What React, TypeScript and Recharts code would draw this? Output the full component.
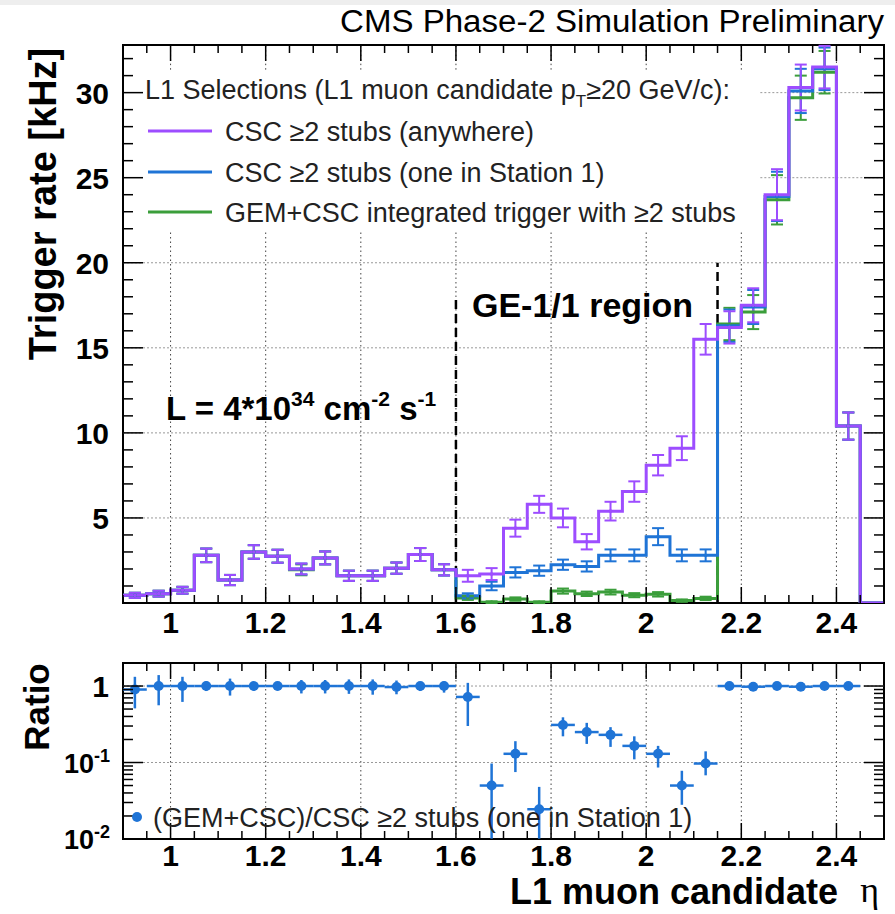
import React from "react";
import {
  ComposedChart,
  Line,
  Scatter,
  XAxis,
  YAxis,
  ErrorBar,
  ReferenceLine,
  ReferenceArea,
} from "recharts";

const FONT = "'Liberation Sans', Arial, Helvetica, sans-serif";
const PURPLE = "#9d4dff";
const BLUE = "#1f74d6";
const GREEN = "#3b9e3b";

// low edges of the eta bins (width 0.05)
const binEdges = [
  0.9, 0.95, 1.0, 1.05, 1.1, 1.15, 1.2, 1.25, 1.3, 1.35, 1.4, 1.45, 1.5, 1.55, 1.6, 1.65,
  1.7, 1.75, 1.8, 1.85, 1.9, 1.95, 2.0, 2.05, 2.1, 2.15, 2.2, 2.25, 2.3, 2.35, 2.4, 2.45,
];
const binWidth = 0.05;

// trigger rates [kHz]
const rateAnywhere = [
  0.45, 0.55, 0.75, 2.8, 1.35, 3.0, 2.75, 2.0, 2.65, 1.6, 1.6, 2.05, 2.85, 1.95, 1.6, 1.7,
  4.4, 5.8, 5.0, 3.6, 5.4, 6.55, 8.1, 9.1, 15.5, 16.2, 17.5, 24.0, 30.3, 31.5, 10.4, 0,
];
const errAnywhere = [
  0.15, 0.17, 0.2, 0.4, 0.3, 0.4, 0.38, 0.32, 0.38, 0.3, 0.3, 0.33, 0.38, 0.33, 0.35, 0.35,
  0.5, 0.5, 0.55, 0.45, 0.55, 0.6, 0.6, 0.7, 0.9, 0.95, 1.0, 1.5, 1.35, 1.25, 0.8, 0,
];
const rateStation1 = [
  0.45, 0.55, 0.75, 2.8, 1.35, 3.0, 2.75, 2.0, 2.65, 1.6, 1.6, 2.05, 2.85, 1.95, 0.42, 1.0,
  1.8, 1.9, 2.25, 2.15, 2.8, 2.8, 3.9, 2.8, 2.8, 16.3, 17.4, 23.9, 30.1, 31.4, 10.4, 0,
];
const errStation1 = [
  0.15, 0.17, 0.2, 0.4, 0.3, 0.4, 0.38, 0.32, 0.38, 0.3, 0.3, 0.33, 0.38, 0.33, 0.15, 0.25,
  0.3, 0.3, 0.3, 0.3, 0.35, 0.35, 0.5, 0.35, 0.35, 0.95, 1.0, 1.45, 1.3, 1.25, 0.8, 0,
];
const rateGemCsc = [
  0.45, 0.55, 0.75, 2.8, 1.35, 3.0, 2.75, 1.95, 2.65, 1.6, 1.6, 2.05, 2.85, 1.95, 0.3, 0.05,
  0.23, 0.047, 0.7, 0.54, 0.64, 0.46, 0.51, 0.14, 0.27, 16.4, 17.1, 23.7, 29.7, 31.2, 10.4, 0,
];
const errGemCsc = [
  0.15, 0.17, 0.2, 0.4, 0.3, 0.4, 0.38, 0.32, 0.38, 0.3, 0.3, 0.33, 0.38, 0.33, 0.12, 0.05,
  0.1, 0.05, 0.15, 0.13, 0.14, 0.12, 0.13, 0.07, 0.1, 0.95, 1.0, 1.45, 1.3, 1.25, 0.8, 0,
];

// (GEM+CSC)/CSC ratio, bins 0.9 .. 2.45
const ratioValues = [
  0.9, 1.0, 1.0, 1.0, 1.0, 1.0, 1.0, 1.0, 1.0, 1.0, 1.0, 0.97, 1.0, 1.0, 0.72, 0.05,
  0.13, 0.0245, 0.31, 0.25, 0.23, 0.165, 0.13, 0.05, 0.097, 1.0, 0.98, 1.0, 0.98, 1.0, 1.0,
];
const ratioLow = [
  0.51, 0.56, 0.62, 0.86, 0.75, 0.87, 0.88, 0.8, 0.8, 0.79, 0.77, 0.78, 0.86, 0.82, 0.3, 0.0101,
  0.075, 0.0101, 0.22, 0.175, 0.16, 0.11, 0.086, 0.028, 0.068, 0.94, 0.93, 0.95, 0.94, 0.95, 0.94,
];
const ratioHigh = [
  1.32, 1.39, 1.32, 1.15, 1.25, 1.13, 1.12, 1.2, 1.2, 1.22, 1.22, 1.18, 1.12, 1.15, 1.1, 0.097,
  0.19, 0.048, 0.39, 0.33, 0.29, 0.22, 0.165, 0.078, 0.14, 1.06, 1.04, 1.05, 1.03, 1.05, 1.06,
];

const xMajorTicks = [1, 1.2, 1.4, 1.6, 1.8, 2, 2.2, 2.4];
const xAllTicks = [
  0.9, 0.95, 1.0, 1.05, 1.1, 1.15, 1.2, 1.25, 1.3, 1.35, 1.4, 1.45, 1.5, 1.55, 1.6, 1.65, 1.7,
  1.75, 1.8, 1.85, 1.9, 1.95, 2.0, 2.05, 2.1, 2.15, 2.2, 2.25, 2.3, 2.35, 2.4, 2.45, 2.5,
];
const rateMajorTicks = [5, 10, 15, 20, 25, 30];
const rateAllTicks = [
  1, 2, 3, 4, 5, 6, 7, 8, 9, 10, 11, 12, 13, 14, 15, 16, 17, 18, 19, 20, 21, 22, 23, 24, 25,
  26, 27, 28, 29, 30, 31, 32,
];
const ratioMajorTicks = [0.01, 0.1, 1];
const ratioAllTicks = [
  0.01, 0.02, 0.03, 0.04, 0.05, 0.06, 0.07, 0.08, 0.09, 0.1, 0.2, 0.3, 0.4, 0.5, 0.6, 0.7,
  0.8, 0.9, 1, 2,
];

const RATE_MAX = 32.8;
const PLOT_RIGHT = 884;
// white legend box inside the upper pad (data units)
const legendBox = { x2: 2.24, y1: 21.9, y2: 31.35 };

const near = (a: number, b: number) => Math.abs(a - b) < 1e-6;
const isIn = (v: number, arr: number[]) => arr.some((a) => near(a, v));

const stepData = (vals: number[]) => [
  ...binEdges.map((x, i) => ({ x, y: vals[i] })),
  { x: 2.5, y: vals[vals.length - 1] },
];
const errData = (vals: number[], errs: number[]) =>
  binEdges
    .map((x, i) => ({ x: x + binWidth / 2, y: vals[i], e: errs[i] }))
    .filter((d) => d.y > 0);

const ratioData = ratioValues.map((y, i) => ({
  x: binEdges[i] + binWidth / 2,
  y,
  e: [y - ratioLow[i], ratioHigh[i] - y],
  xe: binWidth / 2,
}));

const tickText = {
  fontFamily: FONT,
  fontWeight: "bold" as const,
  fontSize: 30,
  fill: "#000",
};

function makeXTick(top: number, labelOffset: number) {
  return (p: any) => {
    const v = p.payload.value;
    const major = isIn(v, xMajorTicks);
    const len = major ? 16 : 8;
    return (
      <g>
        <line x1={p.x} y1={p.y} x2={p.x} y2={p.y - len} stroke="#000" strokeWidth={1.5} />
        <line x1={p.x} y1={top} x2={p.x} y2={top + len} stroke="#000" strokeWidth={1.5} />
        {major && (
          <text x={p.x} y={p.y + labelOffset} textAnchor="middle" {...tickText}>
            {String(v)}
          </text>
        )}
      </g>
    );
  };
}

function rateTick(p: any) {
  const v = p.payload.value;
  const major = isIn(v, rateMajorTicks);
  const len = major ? 20 : 10;
  return (
    <g>
      <line x1={p.x} y1={p.y} x2={p.x + len} y2={p.y} stroke="#000" strokeWidth={1.5} />
      <line x1={PLOT_RIGHT} y1={p.y} x2={PLOT_RIGHT - len} y2={p.y} stroke="#000" strokeWidth={1.5} />
      {major && (
        <text x={p.x - 14} y={p.y + 11} textAnchor="end" {...tickText}>
          {String(v)}
        </text>
      )}
    </g>
  );
}

function ratioTick(p: any) {
  const v = p.payload.value;
  const major = isIn(v, ratioMajorTicks);
  const len = major ? 20 : 10;
  let label: React.ReactNode = null;
  if (near(v, 1))
    label = (
      <text x={p.x - 14} y={p.y + 11} textAnchor="end" {...tickText}>
        1
      </text>
    );
  else if (near(v, 0.1) || near(v, 0.01))
    label = (
      <text x={p.x - 13} y={p.y + 10} textAnchor="end" {...tickText} fontSize={27}>
        10<tspan dy={-11} fontSize={18}>{near(v, 0.1) ? "-1" : "-2"}</tspan>
      </text>
    );
  return (
    <g>
      <line x1={p.x} y1={p.y} x2={p.x + len} y2={p.y} stroke="#000" strokeWidth={1.5} />
      <line x1={PLOT_RIGHT} y1={p.y} x2={PLOT_RIGHT - len} y2={p.y} stroke="#000" strokeWidth={1.5} />
      {label}
    </g>
  );
}

const dotShape = (color: string, r: number) => (p: any) =>
  <circle cx={p.cx} cy={p.cy} r={r} fill={color} />;

const vGrid = { stroke: "#444", strokeDasharray: "1.5 3", strokeWidth: 1 };
const hGrid = { stroke: "#999", strokeDasharray: "2 2", strokeWidth: 1 };

function RatePad() {
  const series = [
    { vals: rateGemCsc, errs: errGemCsc, color: GREEN },
    { vals: rateStation1, errs: errStation1, color: BLUE },
    { vals: rateAnywhere, errs: errAnywhere, color: PURPLE },
  ];
  return (
    <ComposedChart width={895} height={640} margin={{ top: 45, right: 11, bottom: 7, left: 63 }}>
      <XAxis
        dataKey="x"
        type="number"
        domain={[0.9, 2.5]}
        ticks={xAllTicks}
        interval={0}
        allowDataOverflow
        height={30}
        tickSize={0}
        tickMargin={0}
        tickLine={false}
        axisLine={false}
        tick={makeXTick(45, 30)}
      />
      <YAxis
        type="number"
        domain={[0, RATE_MAX]}
        ticks={rateAllTicks}
        interval={0}
        allowDataOverflow
        width={60}
        tickSize={0}
        tickMargin={0}
        tickLine={false}
        axisLine={false}
        tick={rateTick}
      />
      {xMajorTicks.map((x) =>
        x < legendBox.x2 ? (
          <React.Fragment key={`vg${x}`}>
            <ReferenceLine segment={[{ x, y: 0 }, { x, y: legendBox.y1 }]} {...vGrid} />
            <ReferenceLine segment={[{ x, y: legendBox.y2 }, { x, y: RATE_MAX }]} {...vGrid} />
          </React.Fragment>
        ) : (
          <ReferenceLine key={`vg${x}`} x={x} {...vGrid} />
        )
      )}
      {rateMajorTicks.map((y) =>
        y > legendBox.y1 && y < legendBox.y2 ? (
          <ReferenceLine key={`hg${y}`} segment={[{ x: legendBox.x2, y }, { x: 2.5, y }]} {...hGrid} />
        ) : (
          <ReferenceLine key={`hg${y}`} y={y} {...hGrid} />
        )
      )}
      <ReferenceLine
        segment={[{ x: 1.6, y: 0 }, { x: 1.6, y: 18.1 }]}
        stroke="#000"
        strokeWidth={2.5}
        strokeDasharray="9 5"
      />
      <ReferenceLine
        segment={[{ x: 2.15, y: 0 }, { x: 2.15, y: 20 }]}
        stroke="#000"
        strokeWidth={2.5}
        strokeDasharray="9 5"
      />
      {series.map((s) => (
        <Line
          key={`l${s.color}`}
          data={stepData(s.vals)}
          dataKey="y"
          type="stepAfter"
          stroke={s.color}
          strokeWidth={3}
          dot={false}
          activeDot={false}
          isAnimationActive={false}
        />
      ))}
      {series.map((s) => (
        <Scatter
          key={`s${s.color}`}
          data={errData(s.vals, s.errs)}
          dataKey="y"
          fill={s.color}
          shape={dotShape(s.color, 1.8)}
          isAnimationActive={false}
        >
          <ErrorBar dataKey="e" direction="y" width={6} stroke={s.color} strokeWidth={2} />
        </Scatter>
      ))}
      <ReferenceArea x1={0.9} x2={2.5} y1={0} y2={RATE_MAX} fill="none" stroke="#000" strokeWidth={2} />
    </ComposedChart>
  );
}

function RatioPad() {
  return (
    <ComposedChart width={895} height={240} margin={{ top: 23, right: 11, bottom: 11, left: 63 }}>
      <XAxis
        dataKey="x"
        type="number"
        domain={[0.9, 2.5]}
        ticks={xAllTicks}
        interval={0}
        allowDataOverflow
        height={30}
        tickSize={0}
        tickMargin={0}
        tickLine={false}
        axisLine={false}
        tick={makeXTick(23, 27)}
      />
      <YAxis
        type="number"
        scale="log"
        domain={[0.01, 2]}
        ticks={ratioAllTicks}
        interval={0}
        allowDataOverflow
        width={60}
        tickSize={0}
        tickMargin={0}
        tickLine={false}
        axisLine={false}
        tick={ratioTick}
      />
      {xMajorTicks.map((x) => (
        <ReferenceLine key={`rv${x}`} x={x} {...vGrid} />
      ))}
      <ReferenceLine y={1} {...hGrid} />
      <ReferenceLine y={0.1} {...hGrid} />
      <Scatter data={ratioData} dataKey="y" fill={BLUE} shape={dotShape(BLUE, 5)} isAnimationActive={false}>
        <ErrorBar dataKey="e" direction="y" width={0} stroke={BLUE} strokeWidth={2.5} />
        <ErrorBar dataKey="xe" direction="x" width={0} stroke={BLUE} strokeWidth={2.5} />
      </Scatter>
      <ReferenceArea x1={0.9} x2={2.5} y1={0.01} y2={2} fill="none" stroke="#000" strokeWidth={2} />
    </ComposedChart>
  );
}

const legendRows = [
  { label: "CSC ≥2 stubs (anywhere)", color: PURPLE, y: 131 },
  { label: "CSC ≥2 stubs (one in Station 1)", color: BLUE, y: 172 },
  { label: "GEM+CSC integrated trigger with ≥2 stubs", color: GREEN, y: 212 },
];

function Annotations() {
  return (
    <svg
      width={895}
      height={914}
      style={{ position: "absolute", left: 0, top: 0, pointerEvents: "none" }}
      fontFamily={FONT}
    >
      <text x={340} y={32} fontSize={31} textLength={544} lengthAdjust="spacingAndGlyphs" fill="#000">
        CMS Phase-2 Simulation Preliminary
      </text>
      <text
        transform="translate(56,204) rotate(-90)"
        textAnchor="middle"
        fontSize={38}
        fontWeight="bold"
        fill="#000"
      >
        Trigger rate [kHz]
      </text>
      <text
        transform="translate(49,707) rotate(-90)"
        textAnchor="middle"
        fontSize={35}
        fontWeight="bold"
        fill="#000"
      >
        Ratio
      </text>
      <text x={510} y={904} fontSize={36} fontWeight="bold" fill="#000">
        L1 muon candidate
      </text>
      <text
        x={879}
        y={902}
        textAnchor="end"
        fontSize={36}
        fontFamily="'Liberation Serif', 'DejaVu Serif', serif"
        fill="#000"
      >
        η
      </text>

      <text x={145} y={99} fontSize={27} fill="#222">
        L1 Selections (L1 muon candidate p
        <tspan dy={8} fontSize={17}>T</tspan>
        <tspan dy={-8}>≥20 GeV/c):</tspan>
      </text>
      {legendRows.map((r) => (
        <g key={r.label}>
          <line x1={148} x2={212} y1={r.y} y2={r.y} stroke={r.color} strokeWidth={3} />
          <text x={225} y={r.y + 10} fontSize={27} fill="#222">
            {r.label}
          </text>
        </g>
      ))}

      <text x={472} y={317} fontSize={34} fontWeight="bold" fill="#000">
        GE-1/1 region
      </text>
      <text x={166} y={420} fontSize={33} fontWeight="bold" fill="#000">
        L = 4*10<tspan dy={-14} fontSize={21}>34</tspan>
        <tspan dy={14}> cm</tspan>
        <tspan dy={-14} fontSize={21}>-2</tspan>
        <tspan dy={14}> s</tspan>
        <tspan dy={-14} fontSize={21}>-1</tspan>
      </text>

      <circle cx={137} cy={817} r={5} fill={BLUE} />
      <text x={153} y={827} fontSize={27} fill="#222">
        (GEM+CSC)/CSC ≥2 stubs (one in Station 1)
      </text>
    </svg>
  );
}

export default function App() {
  return (
    <div
      style={{
        position: "absolute",
        left: 0,
        top: 0,
        width: 895,
        height: 914,
        background: "#fff",
        overflow: "hidden",
      }}
    >
      <div style={{ position: "absolute", left: 0, top: 0, width: 895, height: 5, background: "#eee" }} />
      <div style={{ position: "absolute", left: 0, top: 0 }}>
        <RatePad />
      </div>
      <div style={{ position: "absolute", left: 0, top: 640 }}>
        <RatioPad />
      </div>
      <Annotations />
    </div>
  );
}
